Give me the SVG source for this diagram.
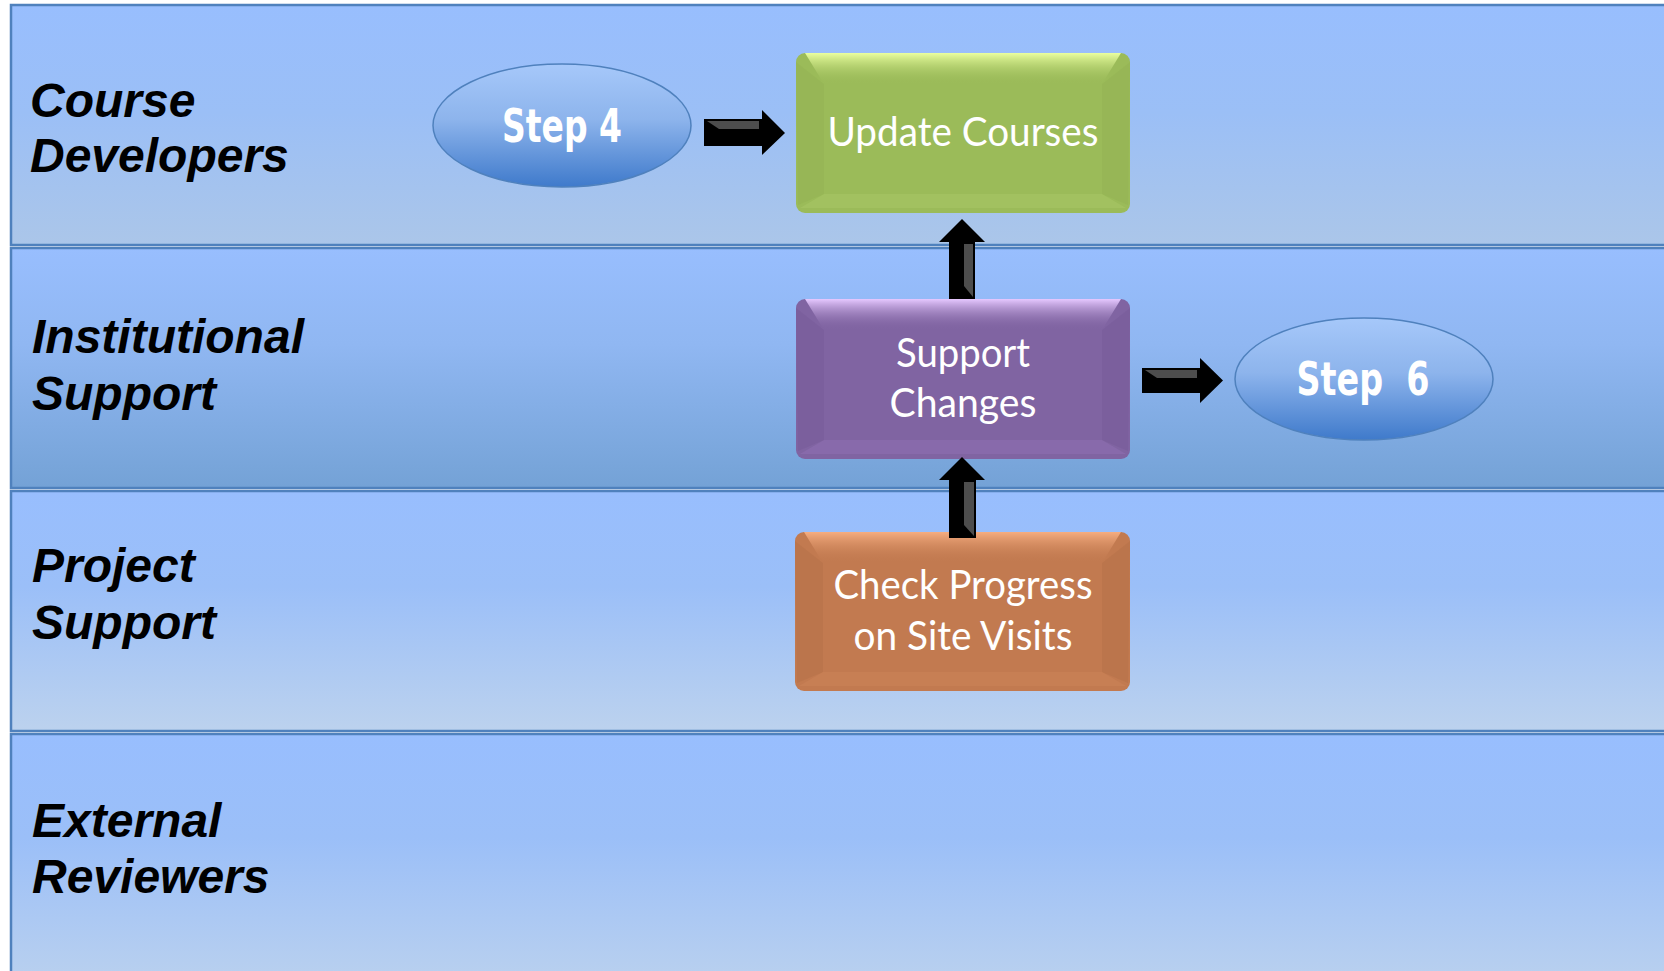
<svg xmlns="http://www.w3.org/2000/svg" width="1664" height="971" viewBox="0 0 1664 971">
<style>
.lane{stroke:#4f81bd;stroke-width:2.5}
.lbl{font-family:"Liberation Sans",Arial,sans-serif;font-weight:bold;font-style:italic;font-size:48px;fill:#000}
.nt{font-family:Lato,"Open Sans",sans-serif;font-weight:400;font-size:40px;fill:#fff;text-anchor:middle}
.st{font-family:"DejaVu Sans Condensed","DejaVu Sans",sans-serif;font-weight:bold;font-size:46px;fill:#fff;text-anchor:middle}
.ell{fill:url(#gEll);stroke:#4f81bd;stroke-width:1.5}
.arr{fill:#000}
.hl{fill:#4d4d4d}
</style>
<defs>
<linearGradient id="gL1" x1="0" y1="0" x2="0" y2="1"><stop offset="0" stop-color="#98befe"/><stop offset="0.45" stop-color="#9bbff6"/><stop offset="1" stop-color="#abc6e9"/></linearGradient>
<linearGradient id="gL2" x1="0" y1="0" x2="0" y2="1"><stop offset="0" stop-color="#98befe"/><stop offset="0.4" stop-color="#90b7f2"/><stop offset="1" stop-color="#74a2d6"/></linearGradient>
<linearGradient id="gL3" x1="0" y1="0" x2="0" y2="1"><stop offset="0" stop-color="#98befe"/><stop offset="0.4" stop-color="#9bbff8"/><stop offset="1" stop-color="#bcd2ee"/></linearGradient>
<linearGradient id="gEll" x1="0" y1="0" x2="0" y2="1"><stop offset="0" stop-color="#a6c8fa"/><stop offset="0.45" stop-color="#8db4ec"/><stop offset="1" stop-color="#3f7acb"/></linearGradient>
<linearGradient id="gGrTop" x1="0" y1="0" x2="0" y2="1"><stop offset="0" stop-color="#eaffa0"/><stop offset="1" stop-color="#9bbb59" stop-opacity="0"/></linearGradient>
<linearGradient id="gPuTop" x1="0" y1="0" x2="0" y2="1"><stop offset="0" stop-color="#e6c8ff"/><stop offset="1" stop-color="#8064a2" stop-opacity="0"/></linearGradient>
<linearGradient id="gOrTop" x1="0" y1="0" x2="0" y2="1"><stop offset="0" stop-color="#f6ad80"/><stop offset="1" stop-color="#c27a50" stop-opacity="0"/></linearGradient>
</defs>

<rect width="1664" height="971" fill="#ffffff"/>

<g id="lane-course-developers">
<rect class="lane" x="11" y="5" width="1670" height="240" fill="url(#gL1)"/>
<text class="lbl" x="30" y="117">Course</text>
<text class="lbl" x="30" y="172">Developers</text>
</g>
<g id="lane-institutional-support">
<rect class="lane" x="11" y="248" width="1670" height="240" fill="url(#gL2)"/>
<text class="lbl" x="32" y="353">Institutional</text>
<text class="lbl" x="32" y="410">Support</text>
</g>
<g id="lane-project-support">
<rect class="lane" x="11" y="491" width="1670" height="240" fill="url(#gL3)"/>
<text class="lbl" x="32" y="582">Project</text>
<text class="lbl" x="32" y="639">Support</text>
</g>
<g id="lane-external-reviewers">
<rect class="lane" x="11" y="734" width="1670" height="260" fill="url(#gL3)"/>
<text class="lbl" x="32" y="837">External</text>
<text class="lbl" x="32" y="893">Reviewers</text>
</g>

<g id="step4">
<ellipse class="ell" cx="562" cy="125.5" rx="129" ry="61.5"/>
<text class="st" x="562" y="142" textLength="120" lengthAdjust="spacingAndGlyphs">Step 4</text>
</g>

<g id="update-courses">
<rect x="796" y="53" width="334" height="160" rx="9" fill="#9bbb59"/>
<path d="M805,53 H1121 L1102,84 H824 Z" fill="url(#gGrTop)"/>
<path d="M796,62 L824,84 V194 L798,205 Z" fill="#8fae4f" opacity="0.35"/>
<path d="M1130,62 L1102,84 V194 L1128,205 Z" fill="#8fae4f" opacity="0.35"/>
<path d="M800,208 L824,194 H1102 L1126,208 Z" fill="#b4d070" opacity="0.3"/>
<text class="nt" x="963" y="146" textLength="271" lengthAdjust="spacingAndGlyphs">Update Courses</text>
</g>

<g id="support-changes">
<rect x="796" y="299" width="334" height="160" rx="9" fill="#8064a2"/>
<path d="M805,299 H1121 L1102,330 H824 Z" fill="url(#gPuTop)"/>
<path d="M796,308 L824,330 V440 L798,451 Z" fill="#735796" opacity="0.35"/>
<path d="M1130,308 L1102,330 V440 L1128,451 Z" fill="#735796" opacity="0.35"/>
<path d="M800,454 L824,440 H1102 L1126,454 Z" fill="#9a7cc0" opacity="0.3"/>
<text class="nt" x="963" y="367" textLength="134" lengthAdjust="spacingAndGlyphs">Support</text>
<text class="nt" x="963" y="417" textLength="147" lengthAdjust="spacingAndGlyphs">Changes</text>
</g>

<g id="step6">
<ellipse class="ell" cx="1364" cy="379" rx="129" ry="61"/>
<text class="st" x="1363" y="395" textLength="133" lengthAdjust="spacingAndGlyphs" xml:space="preserve">Step  6</text>
</g>

<g id="check-progress">
<rect x="795" y="532" width="335" height="159" rx="9" fill="#c27a50"/>
<path d="M804,532 H1121 L1102,563 H823 Z" fill="url(#gOrTop)"/>
<path d="M795,541 L823,563 V672 L797,683 Z" fill="#b06c45" opacity="0.35"/>
<path d="M1130,541 L1102,563 V672 L1128,683 Z" fill="#b06c45" opacity="0.35"/>
<path d="M799,686 L823,672 H1102 L1126,686 Z" fill="#d48a60" opacity="0.3"/>
<text class="nt" x="963" y="599" textLength="259" lengthAdjust="spacingAndGlyphs">Check Progress</text>
<text class="nt" x="963" y="650" textLength="219" lengthAdjust="spacingAndGlyphs">on Site Visits</text>
</g>

<g id="connectors">
<g id="arrow-step4-update">
<polygon class="arr" points="704,119 762,119 762,110 785,133 762,155 762,146 704,146"/>
<polygon class="hl" points="707,121 759,121 759,129 719,129"/>
</g>
<g id="arrow-support-update">
<polygon class="arr" points="949,299 949,242 939,242 962,219 985,242 975,242 975,299"/>
<polygon class="hl" points="964,244 973,244 973,297 964,286"/>
</g>
<g id="arrow-check-support">
<polygon class="arr" points="949,538 949,480 939,480 962,457 985,480 976,480 976,538"/>
<polygon class="hl" points="964,482 974,482 974,536 964,525"/>
</g>
<g id="arrow-support-step6">
<polygon class="arr" points="1142,368 1200,368 1200,358 1223,380.5 1200,403 1200,393 1142,393"/>
<polygon class="hl" points="1145,370 1197,370 1197,378 1157,378"/>
</g>
</g>
</svg>
